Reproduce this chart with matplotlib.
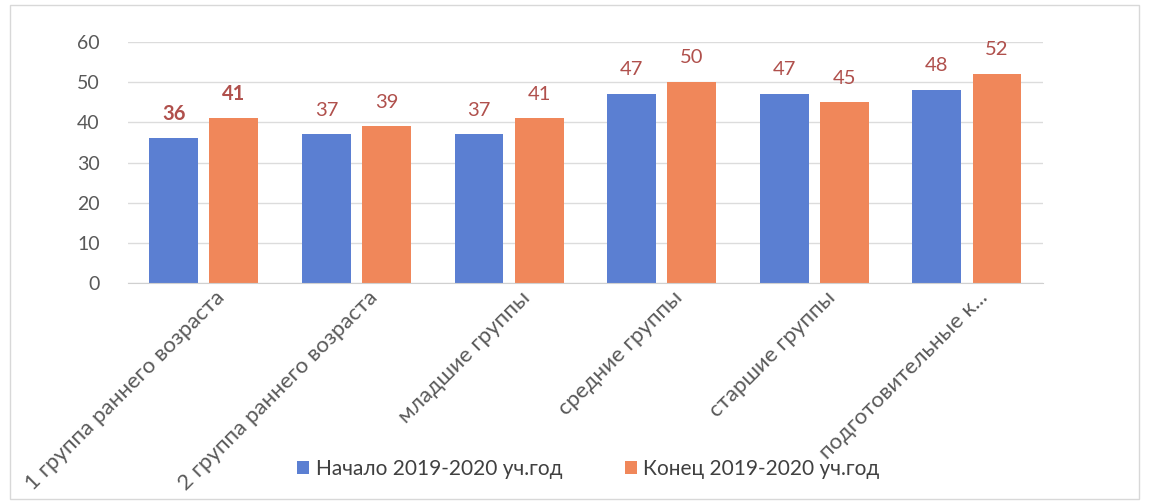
import matplotlib.pyplot as plt
import numpy as np
from matplotlib.patches import Rectangle

# Данные
categories = ["1 группа раннего возраста", "2 группа раннего возраста",
              "младшие группы", "средние группы", "старшие группы",
              "подготовительные к..."]
start_vals = [36, 37, 37, 47, 47, 48]
end_vals = [41, 39, 41, 50, 45, 52]
series_names = ["Начало 2019-2020 уч.год", "Конец 2019-2020 уч.год"]

plt.rcParams['font.family'] = ['Lato', 'DejaVu Sans']

fig = plt.figure(figsize=(11.49, 5.04), dpi=100)
ax = fig.add_axes([0.111, 0.438, 0.797, 0.479])

x = np.arange(len(categories))
w = 0.32
off = 0.197
blue = "#5b7fd2"
orange = "#f0875a"
lab_col = "#b0504c"

b1 = ax.bar(x - off, start_vals, w, color=blue, label=series_names[0])
b2 = ax.bar(x + off, end_vals, w, color=orange, label=series_names[1])

# подписи значений
for i, (s, e) in enumerate(zip(start_vals, end_vals)):
    fw = 'bold' if i == 0 else 'normal'
    ax.text(x[i] - off, s + 6, str(s), ha='center', va='center',
            fontsize=14.5, color=lab_col, fontweight=fw)
    ax.text(x[i] + off, e + 6, str(e), ha='center', va='center',
            fontsize=14.5, color=lab_col, fontweight=fw)

ax.set_xlim(-0.5, len(categories) - 0.5)
ax.set_ylim(0, 60)
ax.set_yticks(range(0, 61, 10))
ax.yaxis.grid(True, color="#dcdcdc", linewidth=1)
ax.set_axisbelow(True)
for sp in ['top', 'right', 'left']:
    ax.spines[sp].set_visible(False)
ax.spines['bottom'].set_color("#d0d0d0")
ax.tick_params(axis='both', length=0, labelsize=14, colors="#595959")
ax.tick_params(axis='y', pad=20)

ax.set_xticks(x + 0.07)
ax.set_xticklabels(categories, rotation=45, ha='right', rotation_mode='anchor',
                   fontsize=16)
ax.tick_params(axis='x', pad=3)

ax.legend(loc='center', bbox_to_anchor=(0.512, 0.07), bbox_transform=fig.transFigure,
          ncol=2, frameon=False, fontsize=15, handlelength=0.6, handleheight=0.6,
          columnspacing=3, handletextpad=0.3, labelcolor="#404040")

# рамка диаграммы
fig.patches.append(Rectangle((0.009, 0.01), 0.982, 0.98, transform=fig.transFigure,
                             fill=False, edgecolor="#d8d8d8", linewidth=1))

fig.savefig("out.png", dpi=100)
